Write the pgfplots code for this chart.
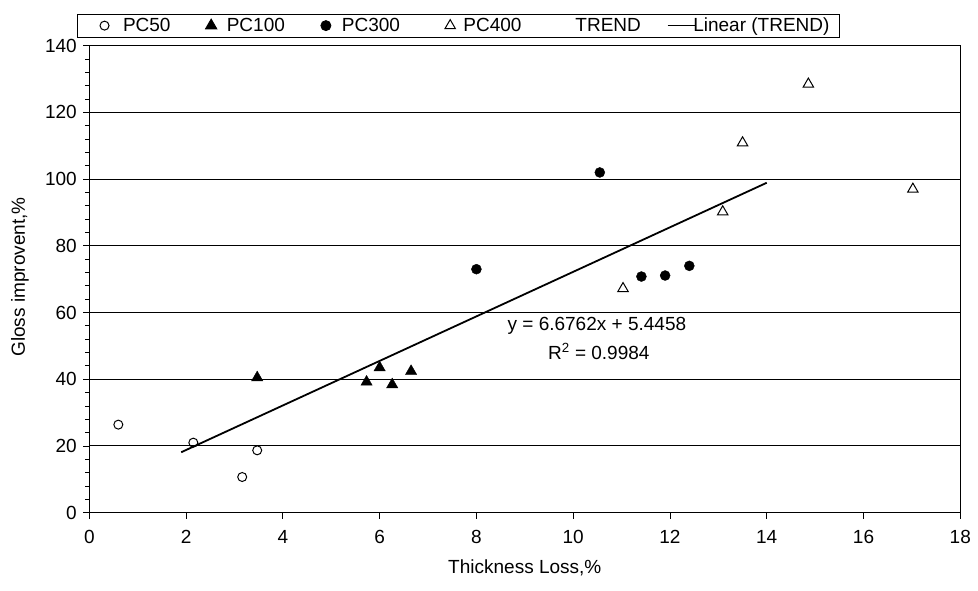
\documentclass[border=0pt]{standalone}
\usepackage{pgfplots}
\pgfplotsset{compat=1.18}
\usepackage{fontspec}
\setmainfont{Liberation Sans}

\begin{document}
\begin{tikzpicture}
\begin{axis}[
    scale only axis,
    width=871pt, height=467pt,
    xmin=0, xmax=18, ymin=0, ymax=140,
    xtick={0,2,...,18}, ytick={0,20,...,140},
    minor y tick num=4,
    tick pos=left, tick align=outside,
    major tick length=6pt, minor tick length=4pt,
    every tick/.style={black, line width=0.9pt},
    ymajorgrids,
    major grid style={black, line width=1pt},
    axis line style={line width=1pt},
    /pgf/number format/assume math mode=true,
    tick label style={font=\fontsize{19}{21}\selectfont},
    yticklabel style={xshift=-3pt},
    xticklabel style={yshift=-8pt},
    label style={font=\fontsize{19}{21}\selectfont},
    xlabel={Thickness Loss,\%},
    ylabel={Gloss improvent,\%},
    xlabel style={at={(axis description cs:0.5,-0.117)}, anchor=center},
    ylabel style={at={(axis description cs:-0.0796,0.505)}, anchor=center},
    legend columns=6,
    legend style={at={(-0.0141,1.0171)}, anchor=south west, draw=black,
        line width=0.9pt, font=\fontsize{19}{21}\selectfont,
        inner xsep=8pt, inner ysep=2pt},
    mark legend/.style={legend image code/.code={%
        \draw[##1] plot coordinates {(0pt,0pt)};}},
    first legend/.style={legend image code/.code={%
        \draw[white, line width=0.1pt] (-19pt,0pt) -- (-12pt,0pt);
        \draw[##1] plot coordinates {(0pt,0pt)};}},
]

% PC50
\addplot[only marks, mark=o, mark size=4.5pt, mark options={line width=1pt}, first legend] coordinates {
    (0.60,26.4) (2.15,21.0) (3.16,10.7) (3.47,18.7)
};
\addlegendentry{\hspace*{12pt}PC50\hspace*{33pt}}

% PC100
\addplot[only marks, mark=triangle*, mark size=6.5pt, fill=black, mark legend] coordinates {
    (3.47,40.5) (5.73,39.2) (6.00,43.5) (6.26,38.4) (6.65,42.4)
};
\addlegendentry{\hspace*{8pt}PC100\hspace*{34pt}}

% PC300
\addplot[only marks, mark=*, mark size=5pt, fill=black, mark legend] coordinates {
    (8.00,73.0) (10.55,102.0) (11.41,70.8) (11.90,71.1) (12.40,74.0)
};
\addlegendentry{\hspace*{9pt}PC300\hspace*{43pt}}

% PC400
\addplot[only marks, mark=triangle, mark size=6pt, mark options={line width=1pt}, mark legend] coordinates {
    (11.03,67.2) (13.09,90.2) (13.50,110.9) (14.86,128.5) (17.02,97.0)
};
\addlegendentry{\hspace*{6pt}PC400\hspace*{36pt}}

\addlegendimage{empty legend}
\addlegendentry{\hspace*{14pt}TREND\hspace*{24pt}}

% linear trend
\addplot[black, line width=1.8pt,
    legend image code/.code={\draw[black, line width=1.4pt] (0pt,0pt) -- (28pt,0pt);}] coordinates {
    (1.9,18.13) (14.0,98.91)
};
\addlegendentry{\hspace*{-5pt}Linear (TREND)}

\node[font=\fontsize{19}{21}\selectfont] at (axis cs:10.49,56.0) {y = 6.6762x + 5.4458};
\node[font=\fontsize{19}{21}\selectfont] at (axis cs:10.53,48.35) {R\textsuperscript{2} = 0.9984};

\coordinate (o) at (rel axis cs:0,0);
\end{axis}
\pgfresetboundingbox
\path (o) ++(-89.3pt,-77.3pt) rectangle ++(978pt,590pt);
\end{tikzpicture}
\end{document}
